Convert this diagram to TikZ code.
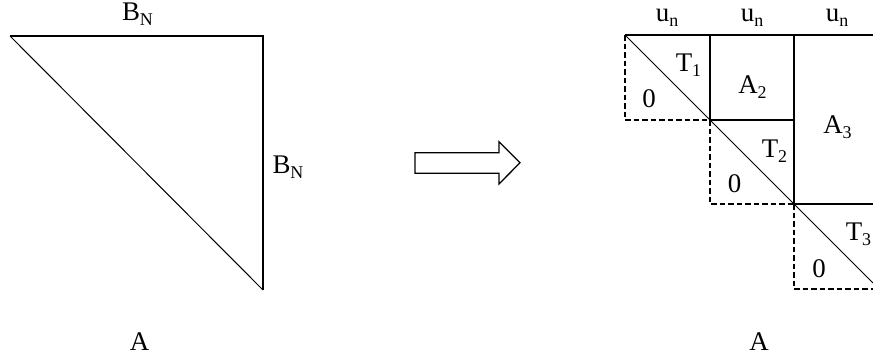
\documentclass[tikz,border=0pt]{standalone}
\usepackage{fontspec}
\setmainfont{Liberation Serif}
\newcommand\lsub[1]{\raisebox{-5.5bp}{\fontsize{18}{18}\selectfont #1}}
\begin{document}
\begin{tikzpicture}[x=1bp,y=-1bp,
  thick line/.style={line width=1.9bp},
  thin line/.style={line width=1bp},
  dash line/.style={line width=1.9bp,dash pattern=on 5.5bp off 3bp},
  lbl/.style={font=\fontsize{27}{27}\selectfont,inner sep=0pt,anchor=base}]
\useasboundingbox (0,0) rectangle (873,360);
% left triangle
\coordinate (LT) at (10,36);
\coordinate (RT) at (263,36);
\coordinate (RB) at (263,290);
\draw[thick line] (LT) -- (RT) -- (RB);
\draw[thin line] (LT) -- (RB);
\node[lbl] (bn1) at (137.5,20) {B\lsub{N}};
\node[lbl] (bn2) at (288,173) {B\lsub{N}};
\node[lbl] (a1) at (139.5,350) {A};
% arrow
\draw[line width=1.3bp] (415,152.7) -- (499,152.7) -- (499,141.7) -- (520,162.7) -- (499,184) -- (499,173.3) -- (415,173.3) -- cycle;
% right diagram
\coordinate (p00) at (625,35);
\coordinate (p10) at (710,35);
\coordinate (p20) at (794,35);
\coordinate (p30) at (873,35);
\coordinate (p01) at (625,120);
\coordinate (p11) at (710,120);
\coordinate (p21) at (794,120);
\coordinate (p12) at (710,204);
\coordinate (p22) at (794,204);
\coordinate (p32) at (873,204);
\coordinate (p23) at (794,289);
\coordinate (p33) at (873,289);
\coordinate (dend) at (873,283);
\draw[thick line] (p00) -- (p30);
\draw[thick line] (p10) -- (p11) -- (p21);
\draw[thick line] (p20) -- (p22) -- (p32);
\draw[dash line] (p00) -- (p01) -- (p11);
\draw[dash line] (p11) -- (p12) -- (p22);
\draw[dash line] (p22) -- (p23) -- (p33);
\draw[thin line] (p00) -- (dend);
\node[lbl] (u1) at (667,21) {u\lsub{n}};
\node[lbl] (u2) at (752,21) {u\lsub{n}};
\node[lbl] (u3) at (837,21) {u\lsub{n}};
\node[lbl] (t1) at (688.5,71) {T\lsub{1}};
\node[lbl] (z1) at (649,107) {0};
\node[lbl] (a2) at (752.5,93) {A\lsub{2}};
\node[lbl] (a3) at (837.5,133) {A\lsub{3}};
\node[lbl] (t2) at (774.5,157) {T\lsub{2}};
\node[lbl] (z2) at (734.5,192) {0};
\node[lbl] (t3) at (858.5,240) {T\lsub{3}};
\node[lbl] (z3) at (819,277) {0};
\node[lbl] (a4) at (759,350) {A};
\end{tikzpicture}
\end{document}
